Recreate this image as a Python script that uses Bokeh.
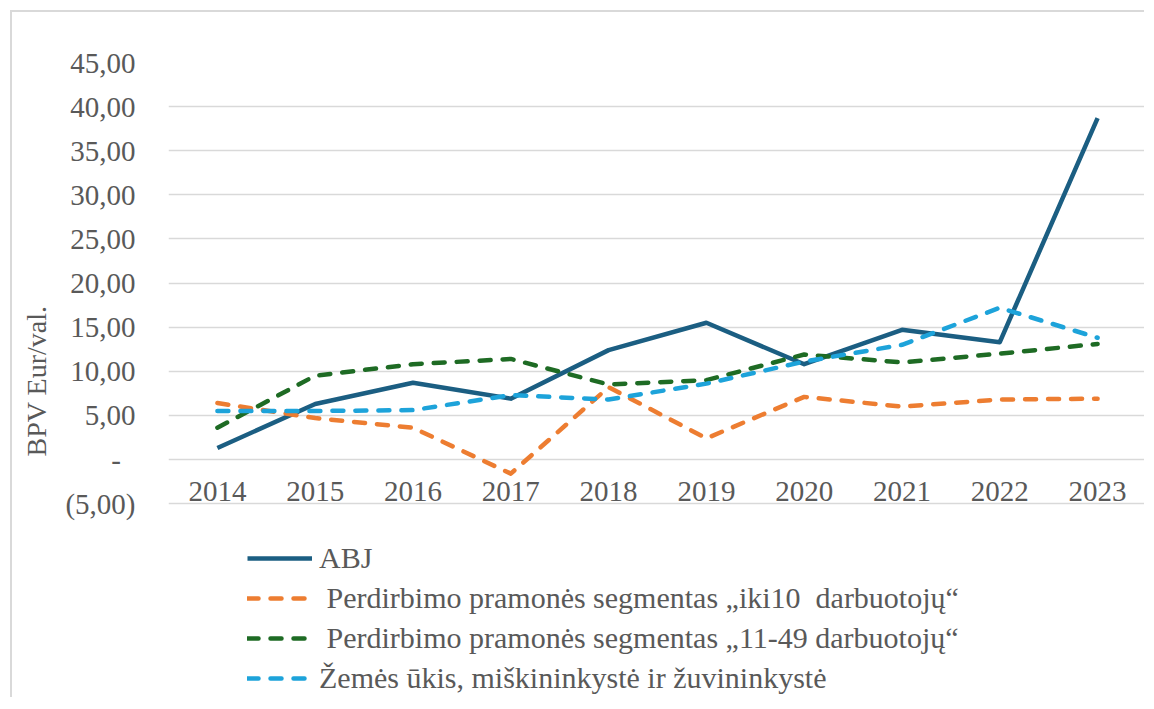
from bokeh.plotting import figure
from bokeh.models import (Range1d, FactorRange, FixedTicker, Legend, LegendItem)
from bokeh.embed import file_html
from bokeh.resources import INLINE

years = ["2014", "2015", "2016", "2017", "2018", "2019", "2020", "2021", "2022", "2023"]
abj = [1.3, 6.3, 8.7, 6.9, 12.4, 15.5, 10.8, 14.7, 13.3, 38.7]
iki10 = [6.4, 4.7, 3.6, -1.6, 8.2, 2.4, 7.1, 6.0, 6.8, 6.9]
s11_49 = [3.6, 9.5, 10.8, 11.4, 8.5, 9.0, 11.9, 11.0, 12.0, 13.1]
zemes = [5.5, 5.5, 5.6, 7.3, 6.8, 8.6, 11.1, 13.0, 17.2, 13.8]

labels = ["ABJ",
          "\u00a0Perdirbimo pramonės segmentas „iki10  darbuotojų“",
          "\u00a0Perdirbimo pramonės segmentas „11-49 darbuotojų“",
          "Žemės ūkis, miškininkystė ir žuvininkystė"]
y_ticks = [-5, 0, 5, 10, 15, 20, 25, 30, 35, 40, 45]
y_tick_labels = ["(5,00)", "-\u00a0\u00a0", "5,00", "10,00", "15,00", "20,00",
                 "25,00", "30,00", "35,00", "40,00", "45,00"]

FONT = "Liberation Serif"
TXT = "#595959"

p = figure(width=1134, height=687, output_backend="svg", toolbar_location=None,
           x_range=FactorRange(*years), y_range=Range1d(-27.2, 45),
           min_border_left=156, min_border_top=50, min_border_right=0,
           min_border_bottom=0)
p.styles = {"margin-left": "10px", "margin-top": "10px",
            "border-top": "2px solid #D9D9D9", "border-left": "2px solid #D9D9D9"}
p.outline_line_color = None
p.background_fill_color = "white"

# grid
p.xgrid.grid_line_color = None
p.yaxis.ticker = FixedTicker(ticks=y_ticks)
p.ygrid.grid_line_color = "#D9D9D9"
p.ygrid.grid_line_width = 1.5

# y axis
p.yaxis.major_label_overrides = {t: l for t, l in zip(y_ticks, y_tick_labels)}
p.yaxis.axis_line_color = None
p.yaxis.major_tick_line_color = None
p.yaxis.minor_tick_line_color = None
p.yaxis.major_label_standoff = 27
p.yaxis.major_label_text_font = FONT
p.yaxis.major_label_text_font_size = "29px"
p.yaxis.major_label_text_color = TXT
p.yaxis.axis_label = "BPV Eur/val."
p.yaxis.axis_label_text_font = FONT
p.yaxis.axis_label_text_font_style = "normal"
p.yaxis.axis_label_text_font_size = "28px"
p.yaxis.axis_label_text_color = TXT
p.yaxis.axis_label_standoff = 10

# x axis at zero
p.xaxis.fixed_location = 0
p.xaxis.axis_line_color = None
p.xaxis.major_tick_line_color = None
p.xaxis.major_label_standoff = 16
p.xaxis.major_label_text_font = FONT
p.xaxis.major_label_text_font_size = "29px"
p.xaxis.major_label_text_color = TXT

r1 = p.line(years, abj, line_color="#1B5E82", line_width=4.5, line_join="round")
r2 = p.line(years, iki10, line_color="#ED7D31", line_width=4.5, line_dash="11 12",
            line_cap="round", line_join="round")
r3 = p.line(years, s11_49, line_color="#1E6B24", line_width=4.5, line_dash="11 12",
            line_cap="round", line_join="round")
r4 = p.line(years, zemes, line_color="#1DA3DA", line_width=4.5, line_dash="11 12",
            line_cap="round", line_join="round")

legend = Legend(items=[LegendItem(label=l, renderers=[r]) for l, r in
                       zip(labels, [r1, r2, r3, r4])],
                location=(79, 1), padding=0, margin=0, spacing=0,
                glyph_width=65, glyph_height=40, label_height=40,
                label_standoff=7, label_text_font=FONT,
                label_text_font_size="30px", label_text_color=TXT,
                border_line_color=None, background_fill_alpha=0)
p.add_layout(legend)

open("out.html", "w").write(file_html(p, INLINE))
